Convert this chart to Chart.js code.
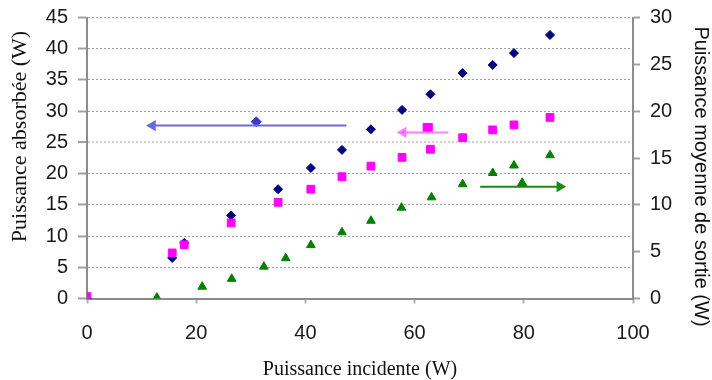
<!DOCTYPE html>
<html><head><meta charset="utf-8">
<script src="https://cdn.jsdelivr.net/npm/chart.js@4"></script>
<style>html,body{margin:0;padding:0;background:#fff;overflow:hidden}</style>
</head><body>
<canvas id="c" width="712" height="380"></canvas>
<script>
// ---- data ----
const incidentPower   = [0, 15.6, 17.8, 26.4, 35, 41, 46.7, 52, 57.7, 62.9, 68.8, 74.3, 78.2, 84.8];
const absorbedPower   = [0, 6.5, 8.9, 13.3, 17.5, 20.9, 23.8, 27.1, 30.2, 32.7, 36.1, 37.4, 39.3, 42.2];
const absorbedPower2  = [0.3, 7.3, 8.6, 12.1, 15.4, 17.5, 19.5, 21.2, 22.6, 23.9, 25.75, 27.0, 27.8, 29.0];
const incidentPowerOut = [12.8, 21.1, 26.5, 32.4, 36.4, 41, 46.7, 52, 57.6, 63.1, 68.8, 74.3, 78.2, 84.8];
const outputPower     = [0.1, 1.26, 2.1, 3.4, 4.3, 5.7, 7.07, 8.3, 9.7, 10.8, 12.2, 13.4, 14.2, 15.3];

// arrows (axis indicators): tail -> head, and the marker sitting on each
const blueArrowX = [47.5, 12.0];  const blueArrowY = [27.7, 27.7];  const blueMarker = [31.0, 28.3];
const pinkArrowX = [66.2, 57.9];  const pinkArrowY = [26.6, 26.6];  const pinkMarker = [62.4, 27.3];
const greenArrowX = [72.0, 86.6]; const greenArrowY = [11.94, 11.94]; const greenMarker = [79.7, 12.3];

const xTicks = [0, 20, 40, 60, 80, 100];
const leftTicks = [0, 5, 10, 15, 20, 25, 30, 35, 40, 45];
const rightTicks = [0, 5, 10, 15, 20, 25, 30];

const xTitle = 'Puissance incidente (W)';
const leftTitle = 'Puissance absorbée (W)';
const rightTitle = 'Puissance moyenne de sortie (W)';

const pts = (xs, ys) => xs.map((x, i) => ({x: x, y: ys[i]}));

const sideTitles = {
  id: 'sideTitles',
  afterDraw(chart) {
    const ctx = chart.ctx;
    const a = chart.chartArea;
    ctx.save();
    ctx.fillStyle = '#111';
    ctx.textAlign = 'center';
    ctx.textBaseline = 'middle';
    ctx.font = '22px "Liberation Serif"';
    ctx.save();
    ctx.translate(20, a.top + 119);
    ctx.rotate(-Math.PI / 2);
    ctx.fillText(leftTitle, 0, 0);
    ctx.restore();
    ctx.font = '20px "Liberation Sans"';
    ctx.save();
    ctx.translate(701, a.top + 159);
    ctx.rotate(Math.PI / 2);
    ctx.fillText(rightTitle, 0, 0);
    ctx.restore();
    ctx.restore();
  }
};

const tickFont = {family: 'Liberation Sans', size: 20};
const yTickFont = {family: 'Liberation Sans', size: 20, lineHeight: 0.7};

new Chart(document.getElementById('c'), {
  type: 'scatter',
  data: {
    datasets: [
      {label: 'blue arrow', data: pts(blueArrowX, blueArrowY), showLine: true, yAxisID: 'y',
       borderColor: '#6a6ad8', backgroundColor: '#6a6ad8', borderWidth: 2,
       pointStyle: 'triangle', pointRadius: [0, 4.5], pointRotation: [0, -90], order: 0},
      {label: 'blue marker', data: [{x: blueMarker[0], y: blueMarker[1]}], yAxisID: 'y',
       backgroundColor: '#3a3acc', borderColor: '#3a3acc', pointStyle: 'rectRot', pointRadius: 5, order: 0},
      {label: 'pink arrow', data: pts(pinkArrowX, pinkArrowY), showLine: true, yAxisID: 'y',
       borderColor: '#ff80ff', backgroundColor: '#ff55ff', borderWidth: 2,
       pointStyle: 'triangle', pointRadius: [0, 4.5], pointRotation: [0, -90], order: 0},
      {label: 'pink marker', data: [{x: pinkMarker[0], y: pinkMarker[1]}], yAxisID: 'y',
       backgroundColor: '#ff00ff', borderColor: '#ff00ff', pointStyle: 'rect', pointRadius: 6.5, order: 0},
      {label: 'green arrow', data: pts(greenArrowX, greenArrowY), showLine: true, yAxisID: 'y2',
       borderColor: '#1a8a1a', backgroundColor: '#1a8a1a', borderWidth: 2,
       pointStyle: 'triangle', pointRadius: [0, 4.5], pointRotation: [0, 90], order: 0},
      {label: 'green marker', data: [{x: greenMarker[0], y: greenMarker[1]}], yAxisID: 'y2',
       backgroundColor: '#008000', borderColor: '#008000', pointStyle: 'triangle', pointRadius: 5.5, order: 0},
      {label: 'Puissance absorbée 2', data: pts(incidentPower, absorbedPower2), yAxisID: 'y',
       backgroundColor: '#ff00ff', borderColor: '#ff00ff', pointStyle: 'rect', pointRadius: 5.5, order: 1},
      {label: 'Puissance absorbée', data: pts(incidentPower, absorbedPower), yAxisID: 'y',
       backgroundColor: '#000080', borderColor: '#000080', pointStyle: 'rectRot', pointRadius: 4.5, order: 2},
      {label: 'Puissance moyenne de sortie', data: pts(incidentPowerOut, outputPower), yAxisID: 'y2',
       backgroundColor: '#008000', borderColor: '#008000', pointStyle: 'triangle', pointRadius: 5, order: 3}
    ]
  },
  options: {
    responsive: false,
    animation: false,
    devicePixelRatio: 1,
    layout: {padding: {top: 17.5, left: 0, right: 0, bottom: 0}},
    plugins: {legend: {display: false}, tooltip: {enabled: false}},
    scales: {
      x: {
        type: 'linear', position: 'bottom', min: 0, max: 100,
        afterBuildTicks: s => { s.ticks = xTicks.map(v => ({value: v})); },
        afterFit: s => { s.height = 81.5; },
        ticks: {font: tickFont, color: '#1a1a1a', padding: 18, maxRotation: 0},
        grid: {drawOnChartArea: false, tickLength: 5, tickColor: '#b0b0b0', tickWidth: 2},
        border: {display: true, color: '#8c8c8c', width: 2},
        title: {display: true, text: xTitle, color: '#111',
                font: {family: 'Liberation Serif', size: 20, lineHeight: 1}, padding: {top: 0, bottom: 0}}
      },
      y: {
        type: 'linear', position: 'left', min: 0, max: 45,
        afterBuildTicks: s => { s.ticks = leftTicks.map(v => ({value: v})); },
        afterFit: s => { s.width = 87; },
        ticks: {font: yTickFont, color: '#1a1a1a', padding: 10},
        grid: {
          color: c => (c.tick && c.tick.value === 25) ? '#d4d4d4' : '#a0a0a0',
          lineWidth: c => (c.tick && c.tick.value === 25) ? 2 : 1,
          tickLength: 9, tickColor: '#a0a0a0', tickWidth: 2, tickBorderDash: []
        },
        border: {display: true, color: '#8c8c8c', width: 2, dash: [2, 2]}
      },
      y2: {
        type: 'linear', position: 'right', min: 0, max: 30,
        afterBuildTicks: s => { s.ticks = rightTicks.map(v => ({value: v})); },
        afterFit: s => { s.width = 79; },
        ticks: {font: yTickFont, color: '#1a1a1a', padding: 10},
        grid: {drawOnChartArea: false, tickLength: 7, tickColor: '#a0a0a0', tickWidth: 2},
        border: {display: true, color: '#8c8c8c', width: 2}
      }
    }
  },
  plugins: [sideTitles]
});
</script>
</body></html>
